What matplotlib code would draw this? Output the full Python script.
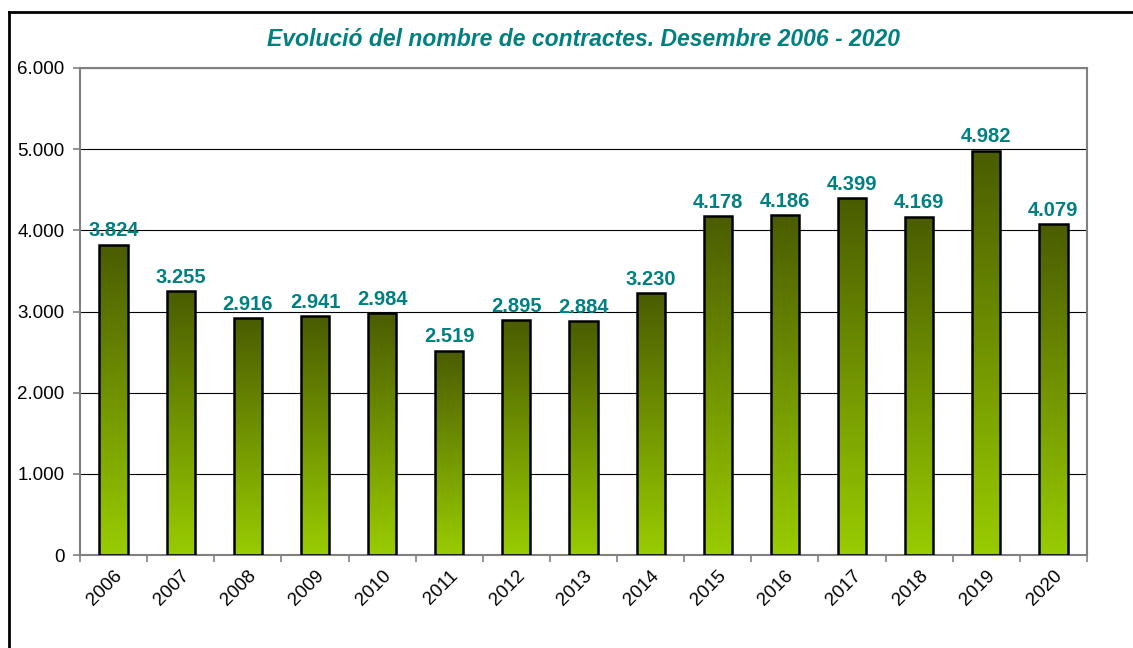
import matplotlib
matplotlib.use("Agg")
import matplotlib.pyplot as plt
import numpy as np
from matplotlib.colors import LinearSegmentedColormap
from matplotlib.lines import Line2D

years = ["2006", "2007", "2008", "2009", "2010", "2011", "2012", "2013",
         "2014", "2015", "2016", "2017", "2018", "2019", "2020"]
values = [3824, 3255, 2916, 2941, 2984, 2519, 2895, 2884,
          3230, 4178, 4186, 4399, 4169, 4982, 4079]
yticks = [0, 1000, 2000, 3000, 4000, 5000, 6000]
title = "Evolució del nombre de contractes. Desembre 2006 - 2020"

plt.rcParams['font.family'] = ['Liberation Sans', 'DejaVu Sans']

W, H = 1133, 648
fig = plt.figure(figsize=(W / 100, H / 100), dpi=100)
ax = fig.add_axes([80 / W, 1 - 555 / H, (1087 - 80) / W, (555 - 68) / H])

teal = "#008080"
cmap = LinearSegmentedColormap.from_list("g", ["#99cc00", "#4a5c00"])
grad = np.linspace(0, 1, 256).reshape(-1, 1)

x = np.arange(len(years))
bw = 0.42
bars = ax.bar(x, values, width=bw, facecolor="none", edgecolor="black",
              linewidth=1.8, zorder=3)
for b, v in zip(bars, values):
    x0 = b.get_x()
    im = ax.imshow(grad, cmap=cmap, origin="lower", aspect="auto",
                   extent=(x0, x0 + bw, 0, v), zorder=2.5)
    im.set_clip_path(b)
    ax.annotate(f"{v:,}".replace(",", "."), (b.get_x() + bw / 2, v),
                xytext=(0, 3), textcoords="offset points",
                ha="center", va="bottom", fontsize=14.5, fontweight="bold",
                color=teal, zorder=5)

ax.set_xlim(-0.5, len(years) - 0.5)
ax.set_ylim(0, 6000)
ax.set_yticks(yticks)
ax.set_yticklabels([f"{t:,}".replace(",", ".") for t in yticks], fontsize=13.5)
ax.yaxis.grid(True, color="black", linewidth=0.8, zorder=1)
ax.set_axisbelow(True)

ax.set_xticks(x)
ax.set_xticklabels(years, rotation=45, ha="right", rotation_mode="anchor",
                   fontsize=13.5)
ax.set_xticks(np.arange(-0.5, len(years)), minor=True)
ax.tick_params(axis="x", which="major", length=0, pad=9)
ax.tick_params(axis="x", which="minor", length=5, color="#808080", width=1.2)
ax.tick_params(axis="y", length=5, color="#808080", width=1.2, pad=6)

for s in ax.spines.values():
    s.set_color("#808080")
    s.set_linewidth(1.5)

fig.text((80 + 1087) / 2 / W, 1 - 40 / H, title, ha="center", va="center",
         fontsize=16.5, fontweight="bold", fontstyle="italic", color=teal)

# outer frame (top and left visible)
fig.add_artist(Line2D([9 / W, 9 / W], [0, 1 - 12 / H], transform=fig.transFigure,
                      color="black", linewidth=2))
fig.add_artist(Line2D([9 / W, 1], [1 - 12 / H, 1 - 12 / H], transform=fig.transFigure,
                      color="black", linewidth=2))

fig.savefig("out.png", dpi=100)
